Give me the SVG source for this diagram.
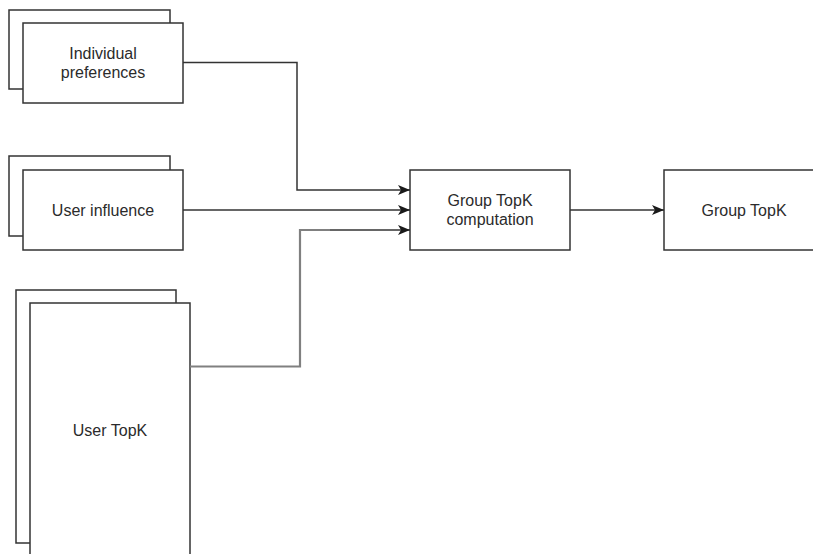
<svg xmlns="http://www.w3.org/2000/svg" width="813" height="554" viewBox="0 0 813 554">
<defs>
<style>
.box{fill:#fff;stroke:#333;stroke-width:1.5}
.lbl{font-family:"Liberation Sans",Arial,sans-serif;font-size:16px;fill:#2b2b2b;text-anchor:middle}
.wire{fill:none;stroke:#333;stroke-width:1.5}
.wire2{fill:none;stroke:#808080;stroke-width:2.2}
</style>
<marker id="arr" viewBox="0 0 12 10" refX="12" refY="5" markerWidth="12" markerHeight="10" markerUnits="userSpaceOnUse" orient="auto">
<path d="M0,0 L12,5 L0,10 L3,5 Z" fill="#1a1a1a"/>
</marker>
</defs>
<rect width="813" height="554" fill="#fff"/>
<g id="individual-preferences">
<rect class="box" x="9" y="10" width="161" height="79"/>
<rect class="box" x="23" y="23" width="160" height="80"/>
<text class="lbl" x="103" y="59">Individual</text>
<text class="lbl" x="103" y="78">preferences</text>
</g>
<g id="user-influence">
<rect class="box" x="9" y="156" width="161" height="80"/>
<rect class="box" x="23" y="170" width="160" height="80"/>
<text class="lbl" x="103" y="216">User influence</text>
</g>
<g id="user-topk">
<rect class="box" x="16" y="290" width="160" height="253"/>
<rect class="box" x="30" y="303" width="160" height="254"/>
<text class="lbl" x="110" y="436">User TopK</text>
</g>
<g id="group-topk-computation">
<rect class="box" x="410" y="170" width="160" height="80"/>
<text class="lbl" x="490" y="206">Group TopK</text>
<text class="lbl" x="490" y="225">computation</text>
</g>
<g id="group-topk">
<rect class="box" x="664" y="170" width="160" height="80"/>
<text class="lbl" x="744" y="216">Group TopK</text>
</g>
<g id="connectors">
<path class="wire" d="M183,62.5 H297 V190 H410" marker-end="url(#arr)"/>
<path class="wire" d="M183,210 H410" marker-end="url(#arr)"/>
<path class="wire2" d="M190,366.5 H300 V230 H330"/>
<path class="wire" d="M330,230 H410" marker-end="url(#arr)"/>
<path class="wire" d="M570,210 H664" marker-end="url(#arr)"/>
</g>
</svg>
